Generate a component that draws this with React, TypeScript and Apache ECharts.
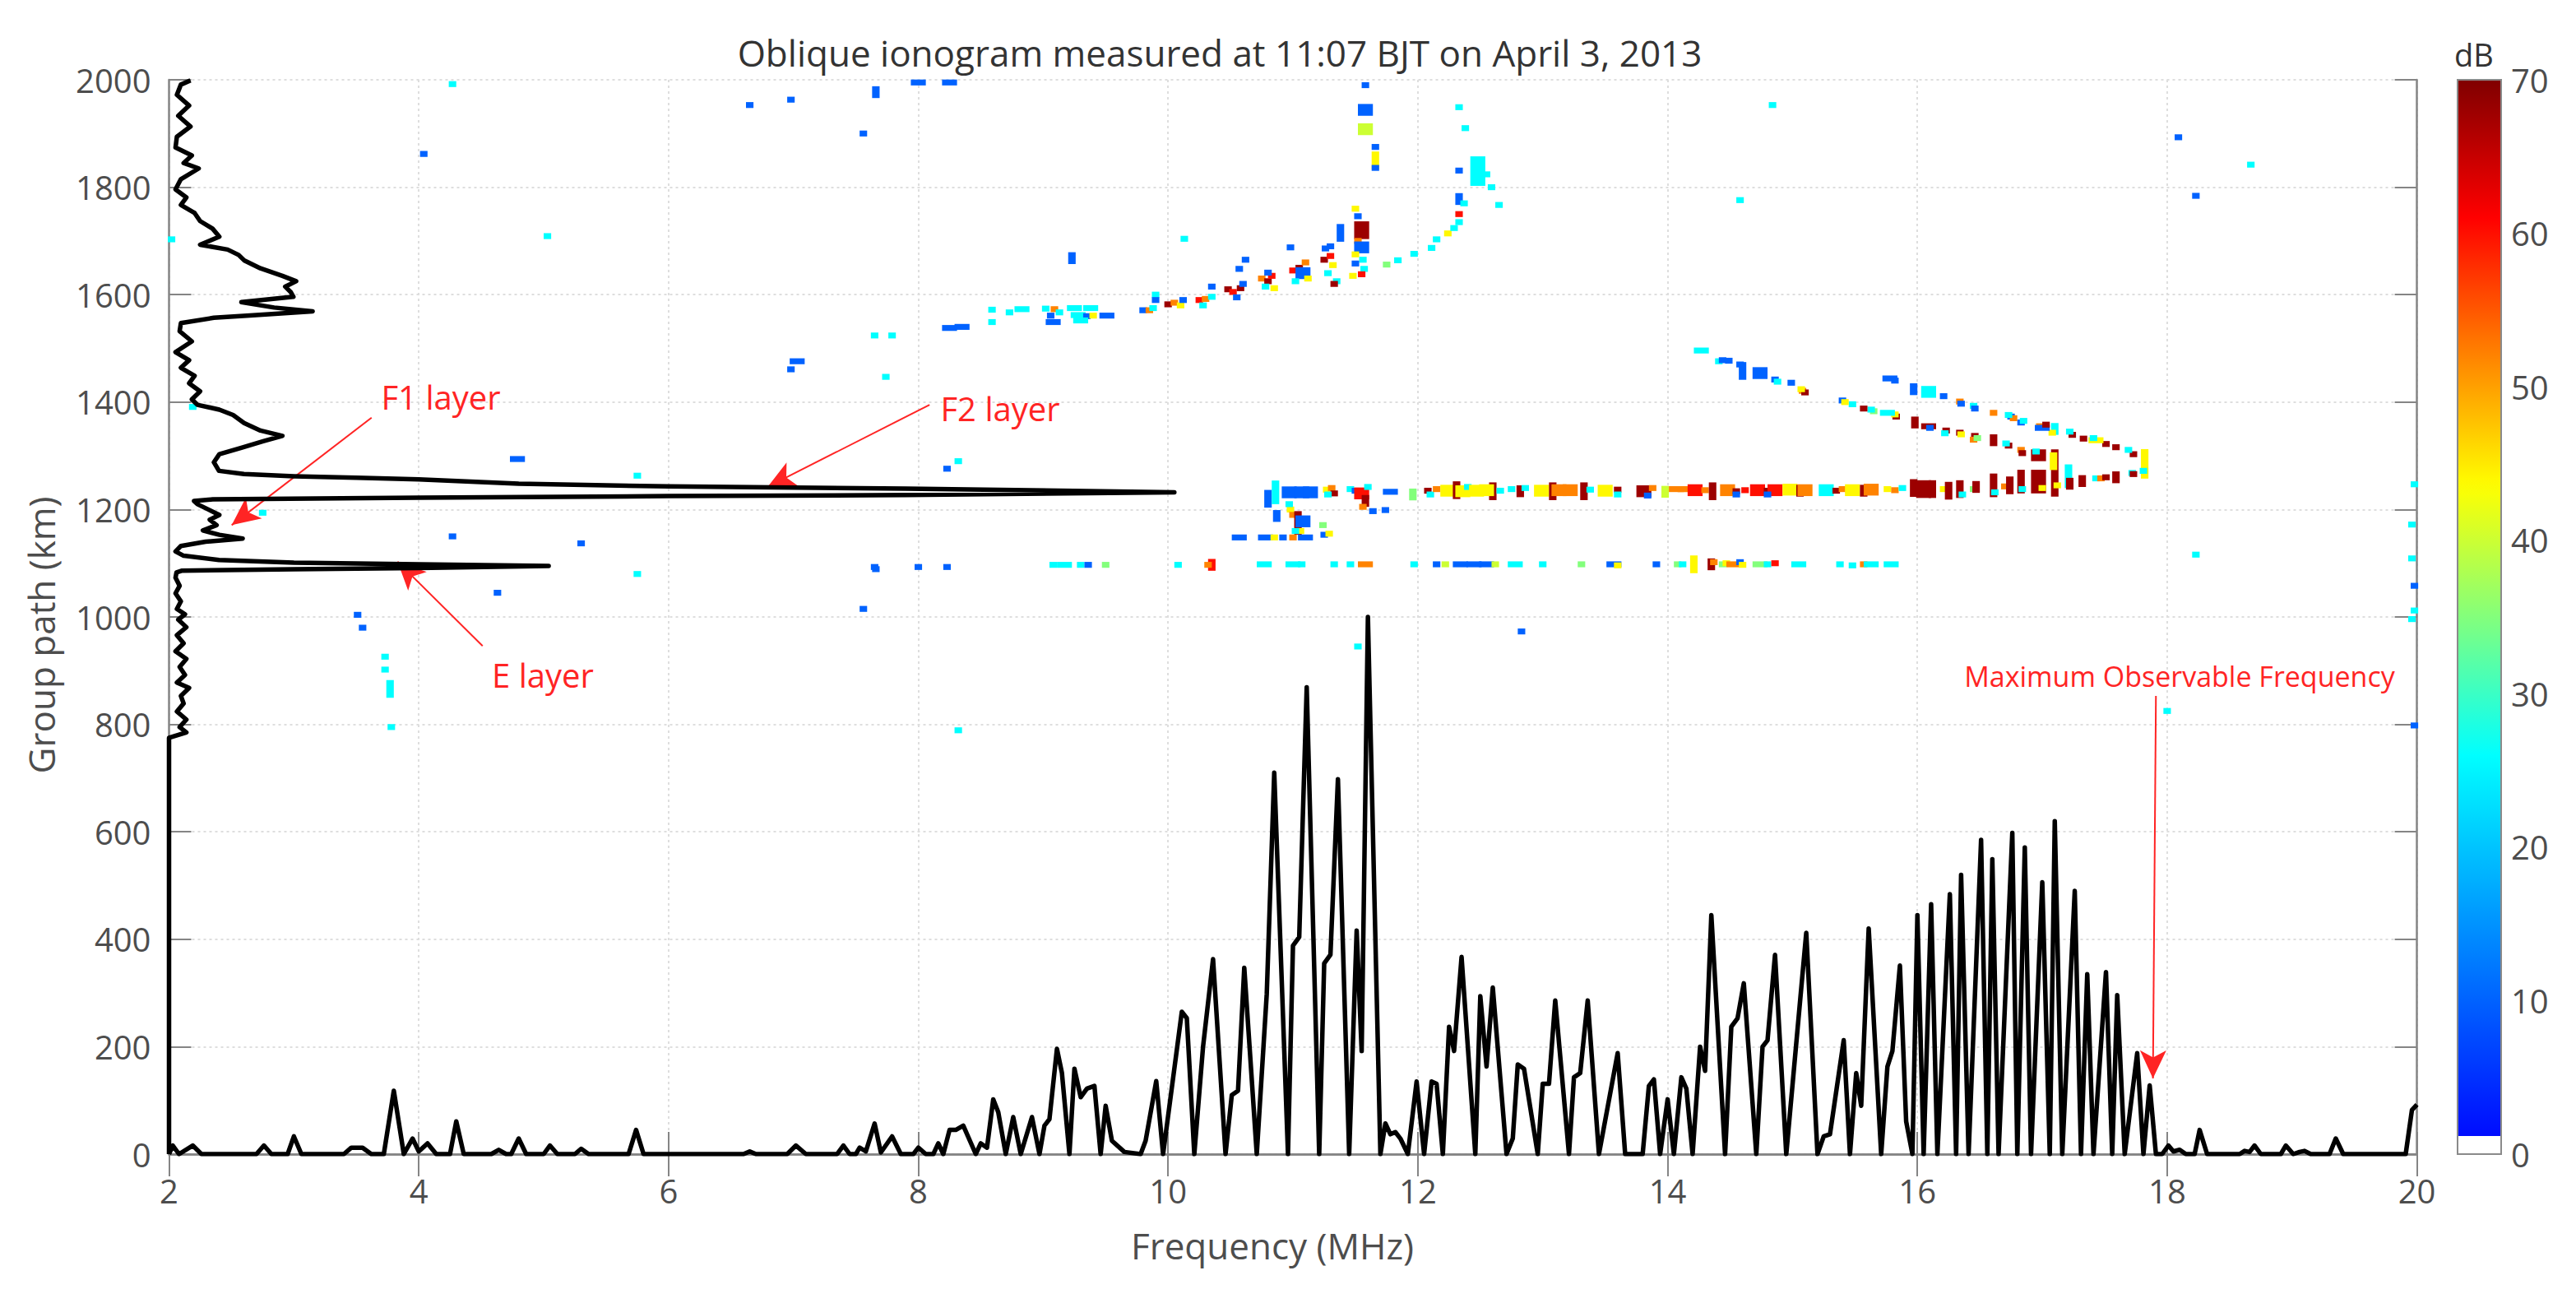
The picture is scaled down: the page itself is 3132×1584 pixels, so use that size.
import React, { useEffect, useRef } from 'react';
import * as echarts from 'echarts';

const W = 3132;
const H = 1584;
const FONT = "'Open Sans', 'DejaVu Sans', sans-serif";

// axes
const freqRange = [2, 20];
const pathRange = [0, 2000];
const dbRange = [0, 70];
const colorbarLevels = [70];

// bottom black profile: [frequency MHz, scaled value (km units)]
const bottomProfile: [number, number][] = [
  [2.0, 0], [2.03, 16], [2.08, 0], [2.19, 16], [2.26, 0], [2.7, 0], [2.76, 16], [2.82, 0], [2.95, 0], [3.0, 33], [3.06, 0],
  [3.4, 0], [3.46, 12], [3.55, 12], [3.62, 0], [3.72, 0], [3.8, 118], [3.88, 0], [3.95, 29], [4.0, 5], [4.07, 20], [4.14, 0],
  [4.25, 0], [4.3, 61], [4.36, 0], [4.58, 0], [4.64, 8], [4.7, 0], [4.74, 0], [4.8, 29], [4.86, 0], [5.0, 0], [5.05, 16], [5.11, 0],
  [5.25, 0], [5.3, 10], [5.36, 0], [5.68, 0], [5.74, 45], [5.8, 0], [6.6, 0], [6.65, 5], [6.7, 0], [6.95, 0], [7.02, 16], [7.1, 0],
  [7.35, 0], [7.4, 16], [7.45, 0], [7.5, 0], [7.53, 12], [7.58, 5], [7.65, 57], [7.7, 3], [7.79, 33], [7.86, 0], [7.96, 0], [8.0, 12],
  [8.06, 0], [8.12, 0], [8.16, 20], [8.2, 0], [8.25, 45], [8.3, 45], [8.36, 53], [8.46, 0], [8.5, 20], [8.55, 12], [8.6, 102],
  [8.64, 78], [8.7, 0], [8.76, 69], [8.82, 0], [8.91, 69], [8.97, 0], [9.01, 53], [9.05, 65], [9.11, 196], [9.15, 151], [9.21, 0],
  [9.25, 159], [9.3, 106], [9.35, 122], [9.41, 127], [9.46, 0], [9.5, 90], [9.55, 25], [9.65, 4], [9.78, 0], [9.82, 25], [9.905, 136],
  [9.96, 0], [10.11, 265], [10.15, 253], [10.21, 0], [10.28, 200], [10.36, 363], [10.46, 0], [10.51, 110], [10.56, 118], [10.61, 347],
  [10.71, 0], [10.79, 298], [10.85, 710], [10.96, 0], [11.0, 388], [11.05, 404], [11.11, 869], [11.21, 0], [11.25, 355], [11.3, 371],
  [11.36, 698], [11.45, 0], [11.51, 416], [11.55, 192], [11.6, 1000], [11.7, 0], [11.74, 57], [11.78, 37], [11.82, 41], [11.86, 29],
  [11.92, 0], [11.99, 135], [12.05, 0], [12.11, 135], [12.15, 131], [12.2, 0], [12.25, 237], [12.29, 192], [12.35, 367], [12.46, 0],
  [12.5, 294], [12.55, 163], [12.6, 310], [12.71, 0], [12.76, 29], [12.8, 167], [12.85, 159], [12.96, 0], [13.0, 131], [13.05, 131],
  [13.1, 286], [13.21, 0], [13.25, 143], [13.3, 151], [13.36, 286], [13.45, 0], [13.6, 188], [13.66, 0], [13.8, 0], [13.85, 127],
  [13.89, 139], [13.94, 0], [14.0, 102], [14.05, 0], [14.11, 143], [14.15, 122], [14.2, 0], [14.26, 200], [14.3, 155], [14.35, 445],
  [14.46, 0], [14.51, 237], [14.56, 253], [14.61, 318], [14.71, 0], [14.76, 200], [14.8, 212], [14.86, 371], [14.95, 0], [15.11, 412],
  [15.2, 0], [15.25, 33], [15.3, 37], [15.41, 212], [15.46, 0], [15.51, 151], [15.55, 90], [15.61, 420], [15.71, 0], [15.76, 163],
  [15.8, 192], [15.86, 351], [15.91, 61], [15.96, 0], [16.0, 445], [16.05, 0], [16.11, 465], [16.16, 0], [16.26, 484], [16.31, 0],
  [16.35, 520], [16.41, 0], [16.51, 585], [16.56, 0], [16.6, 549], [16.65, 0], [16.76, 598], [16.8, 0], [16.86, 571], [16.91, 0],
  [17.0, 506], [17.06, 0], [17.1, 620], [17.16, 0], [17.26, 490], [17.31, 0], [17.36, 335], [17.41, 0], [17.51, 339], [17.56, 0],
  [17.6, 296], [17.66, 0], [17.76, 188], [17.81, 0], [17.86, 128], [17.91, 0], [17.96, 0], [18.01, 16], [18.05, 5], [18.1, 8],
  [18.15, 0], [18.22, 0], [18.26, 45], [18.32, 0], [18.58, 0], [18.62, 6], [18.66, 4], [18.7, 16], [18.75, 0], [18.91, 0], [18.95, 16],
  [19.01, 0], [19.06, 4], [19.1, 6], [19.15, 0], [19.3, 0], [19.35, 29], [19.41, 0], [19.91, 0], [19.96, 82], [20.0, 92],
];

// left black profile: [scaled value (MHz units), group path km]
const leftProfile: [number, number][] = [
  [2.172, 1999], [2.095, 1991], [2.063, 1972], [2.161, 1952], [2.074, 1933], [2.172, 1913], [2.063, 1894], [2.052, 1874],
  [2.183, 1859], [2.117, 1845], [2.238, 1835], [2.095, 1815], [2.052, 1796], [2.139, 1781], [2.095, 1767], [2.205, 1752],
  [2.249, 1737], [2.348, 1723], [2.403, 1708], [2.249, 1693], [2.469, 1684], [2.557, 1674], [2.601, 1664], [2.732, 1649],
  [2.908, 1635], [3.018, 1625], [2.93, 1615], [2.974, 1605], [2.996, 1596], [2.579, 1586], [2.842, 1576], [3.15, 1569],
  [2.623, 1561], [2.359, 1557], [2.095, 1547], [2.085, 1532], [2.183, 1513], [2.052, 1493], [2.161, 1478], [2.095, 1464],
  [2.205, 1449], [2.161, 1435], [2.249, 1420], [2.183, 1405], [2.227, 1395], [2.403, 1386], [2.513, 1376], [2.601, 1361],
  [2.732, 1347], [2.908, 1337], [2.754, 1327], [2.579, 1315], [2.403, 1303], [2.359, 1288], [2.4, 1272], [2.6, 1266],
  [3.0, 1262], [3.5, 1259], [4.0, 1256], [4.8, 1248], [6.0, 1243], [7.9, 1239], [10.05, 1232], [7.9, 1227], [6.0, 1225],
  [4.0, 1222], [2.35, 1219], [2.2, 1216], [2.227, 1210], [2.315, 1200], [2.403, 1190], [2.326, 1181], [2.381, 1171],
  [2.271, 1161], [2.403, 1153], [2.59, 1146], [2.293, 1140], [2.095, 1132], [2.052, 1122], [2.117, 1114], [2.4, 1106],
  [3.0, 1101], [4.0, 1098], [5.04, 1095], [4.0, 1091], [3.0, 1089], [2.1, 1086], [2.06, 1083], [2.052, 1073], [2.085, 1058],
  [2.052, 1044], [2.095, 1029], [2.063, 1015], [2.128, 1005], [2.074, 995], [2.139, 981], [2.063, 966], [2.117, 951],
  [2.052, 936], [2.139, 922], [2.085, 907], [2.128, 892], [2.063, 878], [2.161, 868], [2.095, 853], [2.117, 839], [2.063, 824],
  [2.139, 809], [2.085, 795], [2.139, 785], [2.0, 775], [2.0, 0],
];

// echo cells: [frequency MHz, group path km, amplitude dB, freq-bins, path-bins]
const echoScatter: number[][] = [
  [4.27, 1992, 26], [4.04, 1862, 10], [5.03, 1709, 26], [2.02, 1703, 26], [6.65, 1953, 10], [6.98, 1963, 10],
  [7.66, 1977, 10, 1, 2], [7.56, 1900, 10], [7.65, 1524, 26], [7.79, 1524, 26], [6.98, 1461, 10], [7.03, 1476, 10, 2, 1],
  [7.74, 1447, 26], [2.19, 1391, 26], [4.79, 1294, 10, 2, 1], [5.75, 1263, 26], [2.75, 1194, 26], [4.27, 1150, 10],
  [5.3, 1137, 10], [5.75, 1080, 26], [7.66, 1089, 10], [4.63, 1045, 10], [3.51, 1004, 10], [3.55, 980, 10], [7.56, 1015, 10],
  [3.73, 926, 26], [3.73, 902, 26], [3.77, 866, 26, 1, 3], [3.78, 795, 26], [8.32, 789, 26], [11.52, 945, 26], [12.83, 973, 10],
  [18.0, 825, 26], [19.98, 798, 10], [19.96, 996, 26], [14.84, 1953, 26], [18.09, 1893, 10], [18.67, 1842, 26], [18.23, 1784, 10],
  [14.58, 1776, 26], [18.23, 1116, 26], [19.98, 1247, 26], [19.96, 1172, 26], [19.96, 1109, 26], [19.98, 1058, 10],
  [19.98, 1012, 26], [8.0, 1995, 10, 2, 1], [8.25, 1995, 10, 2, 1], [11.58, 1990, 10], [9.23, 1668, 10, 1, 2], [8.23, 1276, 10],
  [8.32, 1290, 26], [7.65, 1093, 10], [8.0, 1093, 10], [8.23, 1093, 10], [10.13, 1704, 26],
];

const echoUpperF: number[][] = [
  [8.25, 1538, 10, 2, 1], [8.35, 1540, 10, 2, 1], [8.59, 1572, 26], [8.59, 1549, 26], [8.73, 1567, 26], [8.83, 1573, 26, 2, 1],
  [9.02, 1574, 26], [9.09, 1573, 52], [9.06, 1561, 10], [9.08, 1549, 10, 2, 1], [9.13, 1567, 26], [9.25, 1575, 26, 2, 1],
  [9.38, 1575, 26, 2, 1], [9.28, 1562, 26, 2, 1], [9.35, 1560, 10], [9.3, 1552, 26, 2, 1], [9.4, 1561, 44], [9.51, 1561, 10, 2, 1],
  [9.8, 1571, 10], [9.85, 1571, 52], [9.88, 1575, 26], [9.9, 1600, 26], [9.9, 1590, 10], [10.0, 1582, 68], [10.05, 1585, 52],
  [10.1, 1580, 44], [10.12, 1590, 10], [10.25, 1590, 60], [10.3, 1592, 52], [10.28, 1580, 26], [10.35, 1596, 26], [10.35, 1615, 10],
  [10.48, 1610, 68], [10.52, 1605, 60], [10.58, 1612, 68], [10.55, 1595, 10], [10.6, 1620, 10], [10.57, 1648, 10], [10.62, 1665, 10],
  [10.75, 1630, 52], [10.8, 1625, 68], [10.83, 1635, 60], [10.78, 1615, 26], [10.85, 1612, 44], [10.8, 1641, 10], [10.98, 1688, 10],
  [11.0, 1645, 60], [11.05, 1650, 68], [11.08, 1640, 10, 2, 2], [11.02, 1625, 26], [11.1, 1660, 52], [11.12, 1630, 44],
  [11.25, 1665, 68], [11.3, 1672, 60], [11.32, 1655, 44], [11.28, 1640, 26], [11.35, 1625, 26], [11.3, 1690, 10], [11.33, 1620, 68],
  [11.38, 1715, 10, 1, 3], [11.26, 1686, 10], [11.5, 1760, 44], [11.52, 1746, 10], [11.55, 1720, 68, 2, 3], [11.52, 1700, 52],
  [11.55, 1688, 10, 2, 2], [11.5, 1675, 44], [11.56, 1665, 26], [11.57, 1648, 26], [11.55, 1638, 60], [11.48, 1635, 44],
  [11.5, 1658, 10], [11.58, 1944, 10, 2, 2], [11.58, 1908, 40, 2, 2], [11.66, 1875, 10], [11.66, 1850, 44, 1, 3], [11.66, 1836, 10],
  [11.75, 1656, 35], [11.84, 1664, 26], [11.97, 1676, 26], [12.11, 1687, 26], [12.15, 1703, 26], [12.24, 1714, 44], [12.29, 1724, 26],
  [12.33, 1735, 26], [12.33, 1750, 60], [12.33, 1778, 10, 1, 2], [12.37, 1770, 26], [12.33, 1831, 10], [12.48, 1830, 26, 2, 5],
  [12.55, 1824, 26], [12.59, 1800, 26], [12.65, 1767, 26], [12.33, 1949, 26], [12.38, 1910, 26],
];

const echoF2: number[][] = [
  [10.8, 1220, 10, 1, 3], [10.86, 1232, 26, 1, 4], [10.87, 1188, 10, 1, 2], [10.97, 1232, 10, 2, 2], [11.07, 1232, 10, 2, 2],
  [11.14, 1232, 10, 2, 2], [11.27, 1237, 44], [11.31, 1240, 52], [11.33, 1230, 68], [11.28, 1228, 26], [11.46, 1238, 26],
  [11.5, 1235, 10], [11.55, 1230, 60, 2, 2], [11.58, 1216, 68, 1, 2], [11.56, 1205, 52], [11.6, 1242, 26], [11.64, 1197, 10],
  [11.74, 1199, 10], [11.78, 1233, 10, 2, 1], [11.96, 1228, 35, 1, 2], [12.08, 1235, 68], [12.1, 1228, 26], [12.15, 1238, 52],
  [12.24, 1235, 44, 2, 2], [12.31, 1236, 68, 1, 3], [12.36, 1234, 44, 2, 2], [12.4, 1242, 26], [12.47, 1235, 44, 2, 2],
  [12.6, 1234, 68, 1, 3], [12.55, 1236, 44, 2, 2], [12.66, 1235, 26], [12.75, 1238, 26], [12.82, 1234, 68, 1, 2], [12.86, 1240, 26],
  [12.99, 1235, 44, 2, 2], [13.08, 1234, 68, 1, 3], [13.13, 1236, 52, 2, 2], [13.22, 1236, 52, 2, 2], [13.33, 1234, 68, 1, 3],
  [13.38, 1237, 26], [13.5, 1235, 44, 2, 2], [13.6, 1237, 68], [13.6, 1228, 26], [13.81, 1234, 68, 2, 2], [13.84, 1226, 10],
  [13.88, 1240, 52], [13.98, 1233, 40, 1, 2], [14.07, 1238, 52, 2, 1], [14.14, 1238, 52, 2, 1], [14.22, 1236, 60, 2, 2],
  [14.3, 1236, 52], [14.36, 1234, 68, 1, 3], [14.48, 1236, 52, 2, 2], [14.55, 1234, 68], [14.55, 1228, 10], [14.62, 1236, 60],
  [14.72, 1236, 60, 2, 2], [14.8, 1235, 68], [14.86, 1236, 60, 2, 2], [14.8, 1228, 10], [14.98, 1237, 44, 2, 2], [15.06, 1235, 68, 1, 2],
  [15.1, 1236, 52, 2, 2], [15.27, 1236, 26, 2, 2], [15.35, 1235, 68], [15.4, 1238, 52], [15.48, 1236, 44, 2, 2], [15.57, 1235, 68, 1, 2],
  [15.63, 1237, 52, 2, 2], [15.76, 1238, 44], [15.82, 1236, 52], [15.88, 1240, 26], [15.97, 1240, 68, 1, 3], [16.05, 1238, 68, 2, 3],
  [16.12, 1238, 68, 1, 3], [16.21, 1238, 44], [16.25, 1235, 68, 1, 3], [16.34, 1238, 68, 1, 3], [16.36, 1228, 26], [16.45, 1238, 35],
  [16.47, 1242, 68, 1, 2], [16.61, 1245, 68, 1, 4], [16.62, 1232, 26], [16.7, 1243, 52], [16.74, 1245, 68, 1, 3], [16.83, 1252, 68, 1, 4],
  [16.84, 1238, 26], [16.97, 1252, 68, 2, 4], [17.0, 1240, 44], [17.1, 1268, 68, 1, 8], [17.12, 1245, 44], [17.21, 1262, 26, 1, 4],
  [17.22, 1248, 68, 1, 2], [17.32, 1253, 68, 1, 2], [17.43, 1258, 26], [17.47, 1258, 52], [17.51, 1260, 68], [17.59, 1260, 68, 1, 2],
  [17.72, 1268, 26], [17.73, 1266, 68], [17.82, 1285, 44, 1, 5], [17.81, 1272, 26],
];

const echoNose: number[][] = [
  [17.73, 1303, 68], [17.69, 1311, 26], [17.59, 1316, 68], [17.51, 1322, 68], [17.43, 1329, 44, 2, 1], [17.41, 1333, 26],
  [17.33, 1332, 68], [17.24, 1339, 68], [17.22, 1345, 26], [17.1, 1350, 26, 1, 2], [17.08, 1343, 44], [16.98, 1355, 52],
  [17.0, 1352, 10, 2, 1], [17.03, 1358, 68], [16.83, 1362, 10], [16.85, 1365, 26], [16.75, 1373, 10], [16.77, 1370, 52],
  [16.73, 1376, 26], [16.61, 1380, 52], [16.45, 1393, 26], [16.46, 1388, 10], [16.34, 1401, 52], [16.35, 1397, 10], [16.21, 1411, 10],
  [16.09, 1419, 26, 2, 2], [15.97, 1424, 10, 1, 2], [15.78, 1444, 10, 2, 1], [15.82, 1440, 10],
  [17.09, 1290, 44, 1, 3], [16.97, 1301, 68, 2, 2], [16.95, 1308, 26], [16.83, 1311, 52], [16.84, 1305, 68], [16.73, 1319, 68],
  [16.71, 1323, 26], [16.61, 1329, 68, 1, 2], [16.46, 1337, 68], [16.45, 1330, 52], [16.48, 1333, 35], [16.34, 1343, 68],
  [16.35, 1340, 44], [16.23, 1347, 68], [16.22, 1342, 26], [16.09, 1355, 68, 2, 1], [16.1, 1352, 10], [15.98, 1362, 68, 1, 2],
  [15.83, 1373, 68], [15.82, 1377, 44], [15.76, 1380, 26, 2, 1], [15.65, 1383, 35], [15.63, 1386, 26], [15.57, 1388, 68],
  [15.48, 1396, 26], [15.4, 1403, 10], [15.42, 1400, 44], [15.08, 1421, 52], [15.1, 1418, 68], [15.07, 1424, 44], [14.99, 1436, 10],
  [14.86, 1442, 10], [14.88, 1438, 26], [14.74, 1454, 10, 2, 2], [14.6, 1458, 10, 1, 3], [14.58, 1470, 10], [14.49, 1477, 10],
  [14.41, 1476, 26], [14.44, 1478, 10], [14.27, 1496, 26, 2, 1],
];

const echoLow: number[][] = [
  [10.98, 1200, 44], [11.0, 1190, 52], [11.04, 1175, 68, 1, 4], [11.08, 1178, 10, 2, 2], [11.06, 1160, 44], [11.1, 1148, 10, 2, 1],
  [11.02, 1160, 26], [11.0, 1148, 52], [10.97, 1210, 26], [11.24, 1171, 35], [11.25, 1153, 10], [11.29, 1155, 44],
  [10.57, 1148, 10, 2, 1], [10.78, 1148, 10, 2, 1], [10.85, 1148, 44], [10.92, 1148, 10],
];

const echoE: number[][] = [
  [9.08, 1097, 26], [9.17, 1097, 26, 2, 1], [9.3, 1097, 26], [9.36, 1097, 10], [9.5, 1097, 35], [10.08, 1097, 26],
  [10.35, 1097, 60, 1, 2], [10.32, 1097, 52], [10.77, 1098, 26, 2, 1], [11.0, 1098, 26, 2, 1], [11.07, 1098, 26], [11.33, 1098, 26],
  [11.46, 1098, 26], [11.58, 1098, 52, 2, 1], [11.97, 1098, 26], [12.15, 1098, 10], [12.22, 1098, 40], [12.34, 1098, 10, 2, 1],
  [12.45, 1098, 10, 2, 1], [12.55, 1098, 10, 2, 1], [12.62, 1098, 40], [12.78, 1098, 26, 2, 1], [13.0, 1098, 26], [13.31, 1098, 35],
  [13.57, 1098, 10, 2, 1], [13.6, 1096, 44], [13.91, 1098, 10], [14.08, 1098, 35], [14.12, 1098, 26], [14.21, 1098, 44, 1, 3],
  [14.35, 1098, 68, 1, 2], [14.37, 1102, 52], [14.44, 1098, 35], [14.47, 1100, 44], [14.53, 1098, 52, 2, 1], [14.58, 1102, 10],
  [14.6, 1097, 44], [14.74, 1098, 35, 2, 1], [14.8, 1098, 26], [14.86, 1100, 60], [15.05, 1098, 26, 2, 1], [15.38, 1098, 26],
  [15.48, 1096, 26], [15.57, 1098, 52], [15.63, 1098, 26, 2, 1], [15.79, 1098, 26, 2, 1],
];

// annotation arrows: [fromFreq, fromPath, toFreq, toPath]
const arrows: number[][] = [
  [3.622, 1371, 2.502, 1171],
  [8.09, 1395, 6.793, 1242],
  [4.511, 946, 3.83, 1103],
  [17.91, 853, 17.886, 141],
];

const CELL_F = 0.06;
const CELL_P = 11;

const colorStops: [number, number[]][] = [
  [0, [0, 0, 255]],
  [26, [0, 255, 255]],
  [43.5, [255, 255, 0]],
  [61, [255, 0, 0]],
  [70, [128, 0, 0]],
];

function cmap(v: number): string {
  if (v <= colorStops[0][0]) return `rgb(${colorStops[0][1].join(',')})`;
  for (let i = 1; i < colorStops.length; i++) {
    const [v1, c1] = colorStops[i];
    const [v0, c0] = colorStops[i - 1];
    if (v <= v1) {
      const t = (v - v0) / (v1 - v0);
      const c = c0.map((a, k) => Math.round(a + (c1[k] - a) * t));
      return `rgb(${c.join(',')})`;
    }
  }
  return `rgb(${colorStops[colorStops.length - 1][1].join(',')})`;
}

const norm = (rows: number[][]) => rows.map((r) => [r[0], r[1], r[2], r[3] ?? 1, r[4] ?? 1]);

const AXIS_COLOR = '#858585';
const LABEL_COLOR = '#4d4d4d';
const RED = '#ff2424';

export default function App() {
  const ref = useRef<HTMLDivElement>(null);

  useEffect(() => {
    if (!ref.current) return;
    const chart = echarts.init(ref.current, undefined, { renderer: 'svg' });

    const gridLeft = 205.5;
    const gridTop = 97;
    const gridRight = 193.4;
    const gridBottom = 181;

    const cbStops: { offset: number; color: string }[] = [];
    for (let v = 70; v >= 1.2; v -= 1) {
      cbStops.push({ offset: 1 - v / 70, color: cmap(v) });
    }
    cbStops.push({ offset: 1 - 1.2 / 70, color: cmap(1.2) });
    cbStops.push({ offset: 1 - 1.2 / 70 + 0.0001, color: '#ffffff' });
    cbStops.push({ offset: 1, color: '#ffffff' });

    const allEchoes = norm([...echoScatter, ...echoUpperF, ...echoF2, ...echoNose, ...echoLow, ...echoE]);

    const tickCommon = { show: true, inside: true, length: 27, lineStyle: { color: AXIS_COLOR, width: 2 } };
    const lineCommon = { show: true, lineStyle: { color: AXIS_COLOR, width: 2.5 } };
    const splitCommon = { show: true, lineStyle: { color: '#dedede', width: 2, type: [3, 4] as any } };

    const option: any = {
      animation: false,
      backgroundColor: '#ffffff',
      grid: [
        { left: gridLeft, right: gridRight, top: gridTop, bottom: gridBottom },
        { left: 2988, top: gridTop, width: 53, height: 1306 },
      ],
      xAxis: [
        {
          gridIndex: 0, type: 'value', min: freqRange[0], max: freqRange[1], interval: 2, position: 'bottom',
          axisLine: lineCommon, axisTick: tickCommon, splitLine: splitCommon,
          axisLabel: { color: LABEL_COLOR, fontSize: 40, fontFamily: FONT, margin: 24, formatter: (v: number) => String(v) },
        },
        {
          gridIndex: 0, type: 'value', min: freqRange[0], max: freqRange[1], interval: 2, position: 'top',
          axisLine: lineCommon, axisTick: tickCommon, splitLine: { show: false }, axisLabel: { show: false },
        },
        { gridIndex: 1, type: 'category', data: ['dB'], show: false },
      ],
      yAxis: [
        {
          gridIndex: 0, type: 'value', min: pathRange[0], max: pathRange[1], interval: 200, position: 'left',
          axisLine: lineCommon, axisTick: tickCommon, splitLine: splitCommon,
          axisLabel: { color: LABEL_COLOR, fontSize: 40, fontFamily: FONT, margin: 22, formatter: (v: number) => String(v) },
        },
        {
          gridIndex: 0, type: 'value', min: pathRange[0], max: pathRange[1], interval: 200, position: 'right',
          axisLine: lineCommon, axisTick: tickCommon, splitLine: { show: false }, axisLabel: { show: false },
        },
        {
          gridIndex: 1, type: 'value', min: dbRange[0], max: dbRange[1], interval: 10, position: 'right',
          axisLine: { show: false },
          axisTick: { show: true, inside: true, length: 13, lineStyle: { color: '#555', width: 2 } },
          splitLine: { show: false },
          axisLabel: { color: LABEL_COLOR, fontSize: 40, fontFamily: FONT, margin: 12 },
        },
      ],
      series: [
        {
          type: 'custom',
          xAxisIndex: 0,
          yAxisIndex: 0,
          dimensions: ['f', 'p', 'db', 'nw', 'nh'],
          encode: { x: 'f', y: 'p' },
          data: allEchoes,
          z: 2,
          renderItem: (_params: any, api: any) => {
            const f = api.value(0);
            const p = api.value(1);
            const db = api.value(2);
            const w = CELL_F * api.value(3);
            const h = CELL_P * api.value(4);
            const tl = api.coord([f - w / 2, p + h / 2]);
            const sz = api.size([w, h]);
            return {
              type: 'rect',
              shape: { x: tl[0], y: tl[1], width: sz[0], height: sz[1] },
              style: { fill: cmap(db) },
            };
          },
        },
        {
          type: 'line',
          xAxisIndex: 0,
          yAxisIndex: 0,
          data: leftProfile,
          showSymbol: false,
          symbol: 'none',
          z: 5,
          lineStyle: { color: '#000', width: 5.5, join: 'round' },
        },
        {
          type: 'line',
          xAxisIndex: 0,
          yAxisIndex: 0,
          data: bottomProfile,
          showSymbol: false,
          symbol: 'none',
          z: 5,
          lineStyle: { color: '#000', width: 5.5, join: 'round' },
          markLine: {
            silent: true,
            symbol: ['none', 'arrow'],
            symbolSize: [24, 34],
            label: { show: false },
            lineStyle: { color: RED, width: 2, type: 'solid' },
            emphasis: { disabled: true },
            data: arrows.map((a) => [{ coord: [a[0], a[1]] }, { coord: [a[2], a[3]] }]),
          },
        },
        {
          type: 'bar',
          xAxisIndex: 2,
          yAxisIndex: 2,
          barWidth: '100%',
          data: colorbarLevels,
          itemStyle: { color: new echarts.graphic.LinearGradient(0, 0, 0, 1, cbStops) },
        },
      ],
      graphic: [
        {
          type: 'text', x: 1483, y: 64, z: 10,
          style: { text: 'Oblique ionogram measured at 11:07 BJT on April 3, 2013', fontSize: 44, fontFamily: FONT, fill: '#333', align: 'center', verticalAlign: 'middle' },
        },
        {
          type: 'text', x: 1547, y: 1514, z: 10,
          style: { text: 'Frequency (MHz)', fontSize: 44, fontFamily: FONT, fill: LABEL_COLOR, align: 'center', verticalAlign: 'middle' },
        },
        {
          type: 'text', x: 50, y: 772, rotation: Math.PI / 2, z: 10,
          style: { text: 'Group path (km)', fontSize: 44, fontFamily: FONT, fill: LABEL_COLOR, align: 'center', verticalAlign: 'middle' },
        },
        {
          type: 'text', x: 3008, y: 66, z: 10,
          style: { text: 'dB', fontSize: 38, fontFamily: FONT, fill: '#333', align: 'center', verticalAlign: 'middle' },
        },
        {
          type: 'rect', z: 10,
          shape: { x: 2988, y: 97, width: 53, height: 1306 },
          style: { fill: 'none', stroke: '#8a8a8a', lineWidth: 2 },
        },
        {
          type: 'text', x: 536, y: 482, z: 10,
          style: { text: 'F1 layer', fontSize: 40, fontFamily: FONT, fill: RED, align: 'center', verticalAlign: 'middle' },
        },
        {
          type: 'text', x: 1216, y: 496, z: 10,
          style: { text: 'F2 layer', fontSize: 40, fontFamily: FONT, fill: RED, align: 'center', verticalAlign: 'middle' },
        },
        {
          type: 'text', x: 660, y: 820, z: 10,
          style: { text: 'E layer', fontSize: 40, fontFamily: FONT, fill: RED, align: 'center', verticalAlign: 'middle' },
        },
        {
          type: 'text', x: 2650, y: 822, z: 10,
          style: { text: 'Maximum Observable Frequency', fontSize: 34, fontFamily: FONT, fill: RED, align: 'center', verticalAlign: 'middle' },
        },
      ],
    };

    chart.setOption(option);
    return () => chart.dispose();
  }, []);

  return (
    <div
      ref={ref}
      style={{ position: 'fixed', left: 0, top: 0, width: W + 'px', height: H + 'px', background: '#fff' }}
    />
  );
}
